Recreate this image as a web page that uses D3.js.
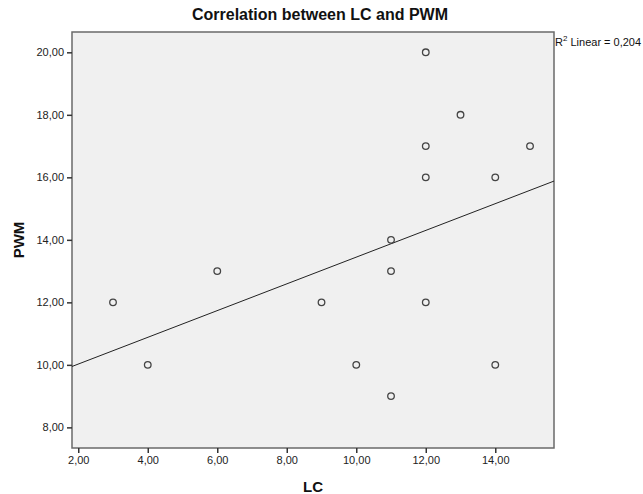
<!DOCTYPE html>
<html>
<head>
<meta charset="utf-8">
<script src="https://cdn.jsdelivr.net/npm/d3@7"></script>
<style>
  html, body { margin: 0; padding: 0; background: #fff; }
  svg { display: block; font-family: Arial, "Liberation Sans", sans-serif; }
</style>
</head>
<body>
<div id="chart"></div>
<script>
// Data
const lcValues  = [3, 4, 6, 9, 10, 11, 11, 11, 12, 12, 12, 12, 13, 14, 14, 15];
const pwmValues = [12, 10, 13, 12, 10, 14, 13, 9, 20, 17, 16, 12, 18, 16, 10, 17];
const xTicks = [2, 4, 6, 8, 10, 12, 14];
const yTicks = [8, 10, 12, 14, 16, 18, 20];

const width = 643;
const height = 494;
const margin = { top: 32, right: 89, bottom: 46, left: 72 };

const fmt = v => v.toFixed(2).replace('.', ',');

const svg = d3.select('#chart').append('svg')
  .attr('width', width)
  .attr('height', height);

const x = d3.scaleLinear().domain([1.82, 15.69]).range([margin.left, width - margin.right]);
const y = d3.scaleLinear().domain([7.34, 20.65]).range([height - margin.bottom, margin.top]);

// Plot area
svg.append('rect')
  .attr('x', margin.left)
  .attr('y', margin.top)
  .attr('width', width - margin.left - margin.right)
  .attr('height', height - margin.top - margin.bottom)
  .attr('fill', '#f0f0f0')
  .attr('stroke', '#6a6a6a')
  .attr('stroke-width', 1.5);

// Axes
const xAxis = svg.append('g')
  .attr('transform', `translate(0,${height - margin.bottom})`)
  .call(d3.axisBottom(x).tickValues(xTicks).tickFormat(fmt).tickSize(5).tickPadding(3));

const yAxis = svg.append('g')
  .attr('transform', `translate(${margin.left},0)`)
  .call(d3.axisLeft(y).tickValues(yTicks).tickFormat(fmt).tickSize(5).tickPadding(3));

for (const ax of [xAxis, yAxis]) {
  ax.select('.domain').remove();
  ax.selectAll('.tick line').attr('stroke', '#333').attr('stroke-width', 1.5);
  ax.selectAll('.tick text')
    .attr('fill', '#222')
    .attr('font-size', '11px')
    .attr('font-family', 'Arial, "Liberation Sans", sans-serif');
}

// Regression line (least squares from the data)
const mx = d3.mean(lcValues);
const my = d3.mean(pwmValues);
let sxy = 0, sxx = 0, syy = 0;
lcValues.forEach((v, i) => {
  sxy += (v - mx) * (pwmValues[i] - my);
  sxx += (v - mx) ** 2;
  syy += (pwmValues[i] - my) ** 2;
});
const slope = sxy / sxx;
const intercept = my - slope * mx;
const r2 = (sxy * sxy) / (sxx * syy);

const [x0, x1] = x.domain();
svg.append('line')
  .attr('x1', x(x0)).attr('y1', y(intercept + slope * x0))
  .attr('x2', x(x1)).attr('y2', y(intercept + slope * x1))
  .attr('stroke', '#222')
  .attr('stroke-width', 1);

// Points
svg.append('g').selectAll('circle')
  .data(lcValues.map((v, i) => [v, pwmValues[i]]))
  .join('circle')
  .attr('cx', d => x(d[0]))
  .attr('cy', d => y(d[1]))
  .attr('r', 3.3)
  .attr('fill', 'none')
  .attr('stroke', '#444')
  .attr('stroke-width', 1.3);

// Title and labels
svg.append('text')
  .attr('x', 320)
  .attr('y', 20)
  .attr('text-anchor', 'middle')
  .attr('font-size', '16px')
  .attr('font-weight', 'bold')
  .attr('fill', '#111')
  .text('Correlation between LC and PWM');

svg.append('text')
  .attr('x', (margin.left + width - margin.right) / 2)
  .attr('y', 492)
  .attr('text-anchor', 'middle')
  .attr('font-size', '15px')
  .attr('font-weight', 'bold')
  .attr('fill', '#111')
  .text('LC');

svg.append('text')
  .attr('transform', `translate(24,${(margin.top + height - margin.bottom) / 2}) rotate(-90)`)
  .attr('text-anchor', 'middle')
  .attr('font-size', '15px')
  .attr('font-weight', 'bold')
  .attr('fill', '#111')
  .text('PWM');

const r2Label = svg.append('text')
  .attr('x', width - margin.right + 1)
  .attr('y', 46)
  .attr('font-size', '11px')
  .attr('fill', '#111');
r2Label.append('tspan').text('R');
r2Label.append('tspan').attr('dy', -5).attr('font-size', '8px').text('2');
r2Label.append('tspan').attr('dy', 5).text(' Linear = ' + r2.toFixed(3).replace('.', ','));
</script>
</body>
</html>
